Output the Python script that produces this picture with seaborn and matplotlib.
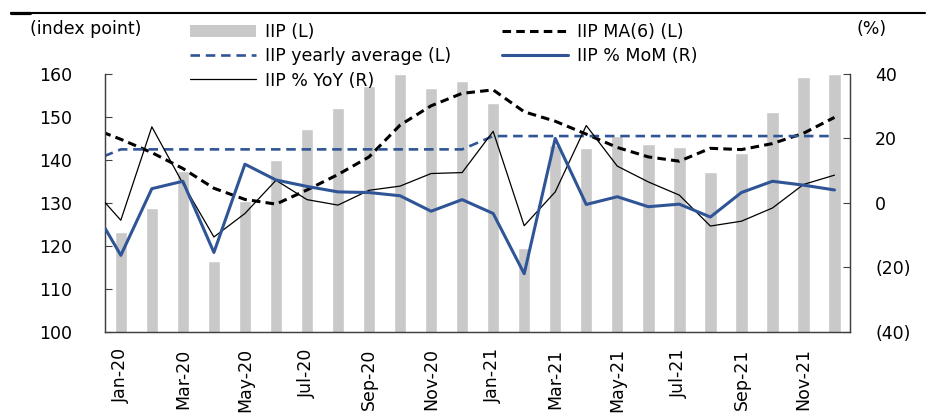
import numpy as np
import pandas as pd
import matplotlib
matplotlib.use("Agg")
import matplotlib.pyplot as plt
import seaborn as sns
from matplotlib.lines import Line2D
from matplotlib.patches import Patch

# ---------------- data ----------------
months = ["Jan-20", "Feb-20", "Mar-20", "Apr-20", "May-20", "Jun-20",
          "Jul-20", "Aug-20", "Sep-20", "Oct-20", "Nov-20", "Dec-20",
          "Jan-21", "Feb-21", "Mar-21", "Apr-21", "May-21", "Jun-21",
          "Jul-21", "Aug-21", "Sep-21", "Oct-21", "Nov-21", "Dec-21"]
iip = [123.2, 128.8, 137.5, 116.5, 130.5, 140.0, 147.2, 152.2, 157.2, 160.0, 156.8, 158.4,
       153.3, 119.5, 143.4, 142.8, 145.5, 143.6, 143.1, 137.1, 141.5, 151.1, 159.2, 160.0]
# line series include the preceding month (Dec-19), partly visible at the left edge
line_months = ["Dec-19"] + months
iip_ma6 = [147.6, 144.8, 141.7, 138.0, 133.4, 130.8, 129.7, 133.0, 136.6, 140.7, 148.1, 152.6, 155.5,
           156.3, 151.2, 149.0, 146.0, 142.9, 140.7, 139.7, 142.7, 142.4, 143.8, 146.2, 149.9]
iip_yearly_avg = [139.5] + [142.45] * 12 + [145.55] * 12
iip_mom = [0.3, -16.3, 4.4, 6.7, -15.4, 12.0, 7.1, 5.1, 3.4, 3.2, 2.2, -2.6, 1.0,
           -3.3, -22.0, 20.0, -0.5, 1.9, -1.2, -0.4, -4.4, 3.2, 6.7, 5.5, 4.0]
iip_yoy = [5.4, -5.4, 23.6, 6.0, -10.6, -3.3, 7.0, 1.0, -0.7, 3.9, 5.2, 9.1, 9.4,
           22.2, -7.1, 3.4, 24.0, 11.4, 6.5, 2.4, -7.2, -5.7, -1.6, 5.7, 8.6]

left_ticks = [100, 110, 120, 130, 140, 150, 160]
right_ticks = [-40, -20, 0, 20, 40]
right_tick_labels = ["(40)", "(20)", "0", "20", "40"]

bar_df = pd.DataFrame({"month": months, "iip": iip})
line_df = pd.DataFrame({"pos": np.arange(-1, len(months)),
                        "ma6": iip_ma6, "avg": iip_yearly_avg,
                        "mom": iip_mom, "yoy": iip_yoy})

# ---------------- style ----------------
sns.set_theme(style="white")
plt.rcParams["font.family"] = ["DejaVu Sans"]
plt.rcParams["text.color"] = "black"
plt.rcParams["xtick.labelcolor"] = "black"
plt.rcParams["ytick.labelcolor"] = "black"
FS = 12.5
BLUE = "#2F5597"
GREY = "#C9C9C9"
AX_COL = "#404040"

fig = plt.figure(figsize=(9.35, 4.19), dpi=100)
W, H = 935, 419
ax = fig.add_axes([105.3 / W, 1 - 331.7 / H, (850 - 105.3) / W, (331.7 - 74) / H])

sns.barplot(data=bar_df, x="month", y="iip", color=GREY, width=0.4,
            saturation=1, ax=ax, zorder=1)
sns.lineplot(data=line_df, x="pos", y="ma6", color="black", lw=2.2,
             ax=ax, zorder=3, linestyle=(0, (2.8, 1.7)))
sns.lineplot(data=line_df, x="pos", y="avg", color=BLUE, lw=1.9,
             ax=ax, zorder=3, linestyle=(0, (3.6, 2.2)))

ax.set_ylim(100, 160)
ax.set_xlim(-0.5, len(months) - 0.5)
ax.set_yticks(left_ticks)
ax.set_yticklabels([str(t) for t in left_ticks])
ax.set_xticks(np.arange(0, len(months), 2))
ax.set_xticklabels(months[::2], rotation=90, va="top", ha="center")
ax.set_xlabel("")
ax.set_ylabel("")
ax.tick_params(axis="y", direction="in", length=5, width=0.8, color=AX_COL,
               labelsize=FS, pad=24, left=True, labelcolor="black")
ax.tick_params(axis="x", length=0, labelsize=FS, pad=12, labelcolor="black")

ax2 = ax.twinx()
sns.lineplot(data=line_df, x="pos", y="yoy", color="black", lw=0.9, ax=ax2, zorder=4)
sns.lineplot(data=line_df, x="pos", y="mom", color=BLUE, lw=2.2, ax=ax2, zorder=5)
ax2.set_ylim(-40, 40)
ax2.set_xlim(-0.5, len(months) - 0.5)
ax2.set_yticks(right_ticks)
ax2.set_yticklabels(right_tick_labels)
ax2.set_ylabel("")
ax2.tick_params(axis="y", direction="in", length=5, width=0.8, color=AX_COL,
                labelsize=FS, pad=18, right=True, labelcolor="black")

for a in (ax, ax2):
    a.spines["top"].set_visible(False)
    for s in ("left", "right", "bottom"):
        a.spines[s].set_color(AX_COL)
        a.spines[s].set_linewidth(0.9)
    a.grid(False)
ax.patch.set_alpha(0)

# axis unit labels
fig.text(30 / W, 1 - 29 / H, "(index point)", fontsize=FS, va="center", ha="left")
fig.text(857 / W, 1 - 29 / H, "(%)", fontsize=FS, va="center", ha="left")

# top rule
fig.add_artist(Line2D([11 / W, 925 / W], [1 - 13.3 / H] * 2, color="black", lw=1.5,
                      transform=fig.transFigure))
fig.add_artist(Line2D([11 / W, 30 / W], [1 - 13.3 / H] * 2, color="black", lw=2.3,
                      transform=fig.transFigure))

# legends
h_iip = Patch(facecolor=GREY, edgecolor="none")
h_avg = Line2D([], [], color=BLUE, lw=1.9, linestyle=(0, (3.6, 2.2)))
h_yoy = Line2D([], [], color="black", lw=0.9)
h_ma = Line2D([], [], color="black", lw=2.2, linestyle=(0, (2.8, 1.7)))
h_mom = Line2D([], [], color=BLUE, lw=2.2)

common = dict(frameon=False, fontsize=FS, handlelength=3.8, handleheight=0.7,
              handletextpad=0.5, labelspacing=0.36, borderpad=0, borderaxespad=0,
              loc="upper left")
fig.legend([h_iip, h_avg, h_yoy], ["IIP (L)", "IIP yearly average (L)", "IIP % YoY (R)"],
           bbox_to_anchor=(190 / W, 1 - 23 / H), **common)
fig.legend([h_ma, h_mom], ["IIP MA(6) (L)", "IIP % MoM (R)"],
           bbox_to_anchor=(502 / W, 1 - 23 / H), **common)

fig.savefig("out.png", dpi=100)
